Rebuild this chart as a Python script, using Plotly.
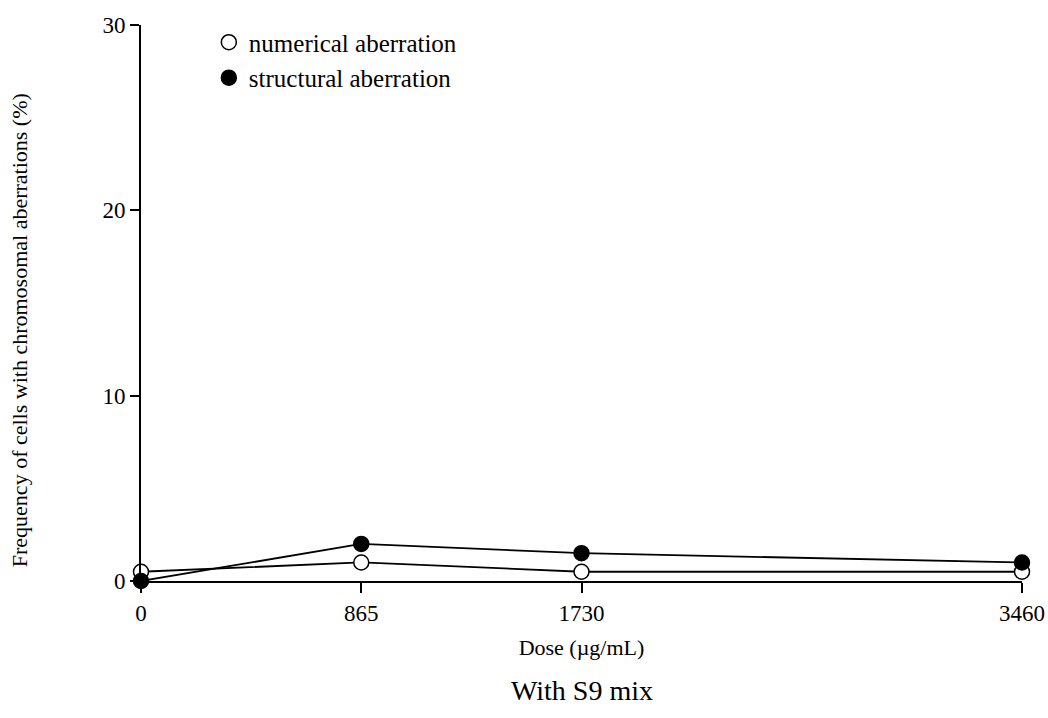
import plotly.graph_objects as go

doses = [0, 865, 1730, 3460]
numerical = [0.5, 1.0, 0.5, 0.5]
structural = [0.0, 2.0, 1.5, 1.0]
x_ticks = [0, 865, 1730, 3460]
y_ticks = [0, 10, 20, 30]

FONT = "Liberation Serif"

fig = go.Figure()
fig.add_trace(go.Scatter(
    x=doses, y=numerical, mode="lines+markers", showlegend=False,
    line=dict(color="black", width=1.8),
    marker=dict(symbol="circle", size=15, color="white", line=dict(color="black", width=1.5)),
    cliponaxis=False,
))
fig.add_trace(go.Scatter(
    x=doses, y=structural, mode="lines+markers", showlegend=False,
    line=dict(color="black", width=1.8),
    marker=dict(symbol="circle", size=15, color="black", line=dict(color="black", width=1.5)),
    cliponaxis=False,
))
# legend entries (markers only)
fig.add_trace(go.Scatter(
    x=[None], y=[None], mode="markers", name="numerical aberration",
    marker=dict(symbol="circle", size=15, color="white", line=dict(color="black", width=1.5)),
))
fig.add_trace(go.Scatter(
    x=[None], y=[None], mode="markers", name="structural aberration",
    marker=dict(symbol="circle", size=15, color="black", line=dict(color="black", width=1.5)),
))

fig.update_layout(
    width=1048, height=718,
    margin=dict(l=141, r=26, t=25, b=137),
    paper_bgcolor="white", plot_bgcolor="white",
    font=dict(family=FONT, color="black", size=22),
    legend=dict(x=0.077, y=1.01, xanchor="left", yanchor="top",
                font=dict(family=FONT, size=25), bgcolor="rgba(0,0,0,0)",
                itemwidth=30, tracegroupgap=0),
    xaxis=dict(
        range=[0, 3460], tickvals=x_ticks, ticktext=[str(v) for v in x_ticks],
        showline=True, linecolor="black", linewidth=2, ticks="outside",
        ticklen=10, tickwidth=1.5, tickcolor="black", showgrid=False, zeroline=False,
        tickfont=dict(family=FONT, size=23), automargin=False,
        title=dict(text="Dose (µg/mL)", font=dict(family=FONT, size=22), standoff=15),
    ),
    yaxis=dict(
        range=[0, 30], tickvals=y_ticks,
        showline=True, linecolor="black", linewidth=2, ticks="outside",
        ticklen=9, tickwidth=1.5, tickcolor="black", showgrid=False, zeroline=False,
        tickfont=dict(family=FONT, size=23), automargin=False,
    ),
    annotations=[
        dict(
            text="Frequency of cells with chromosomal aberrations (%)",
            xref="paper", yref="paper", x=-0.1385, y=0.451, textangle=-90,
            xanchor="center", yanchor="middle", showarrow=False,
            font=dict(family=FONT, size=22),
        ),
        dict(
            text="With S9 mix", xref="paper", yref="paper", x=0.5, y=-0.197,
            xanchor="center", yanchor="middle", showarrow=False,
            font=dict(family=FONT, size=28),
        ),
    ],
)

fig.write_html(
    "out.html",
    config={"displayModeBar": False},
    post_script="document.body.style.margin='0';document.documentElement.style.overflow='hidden';",
)
